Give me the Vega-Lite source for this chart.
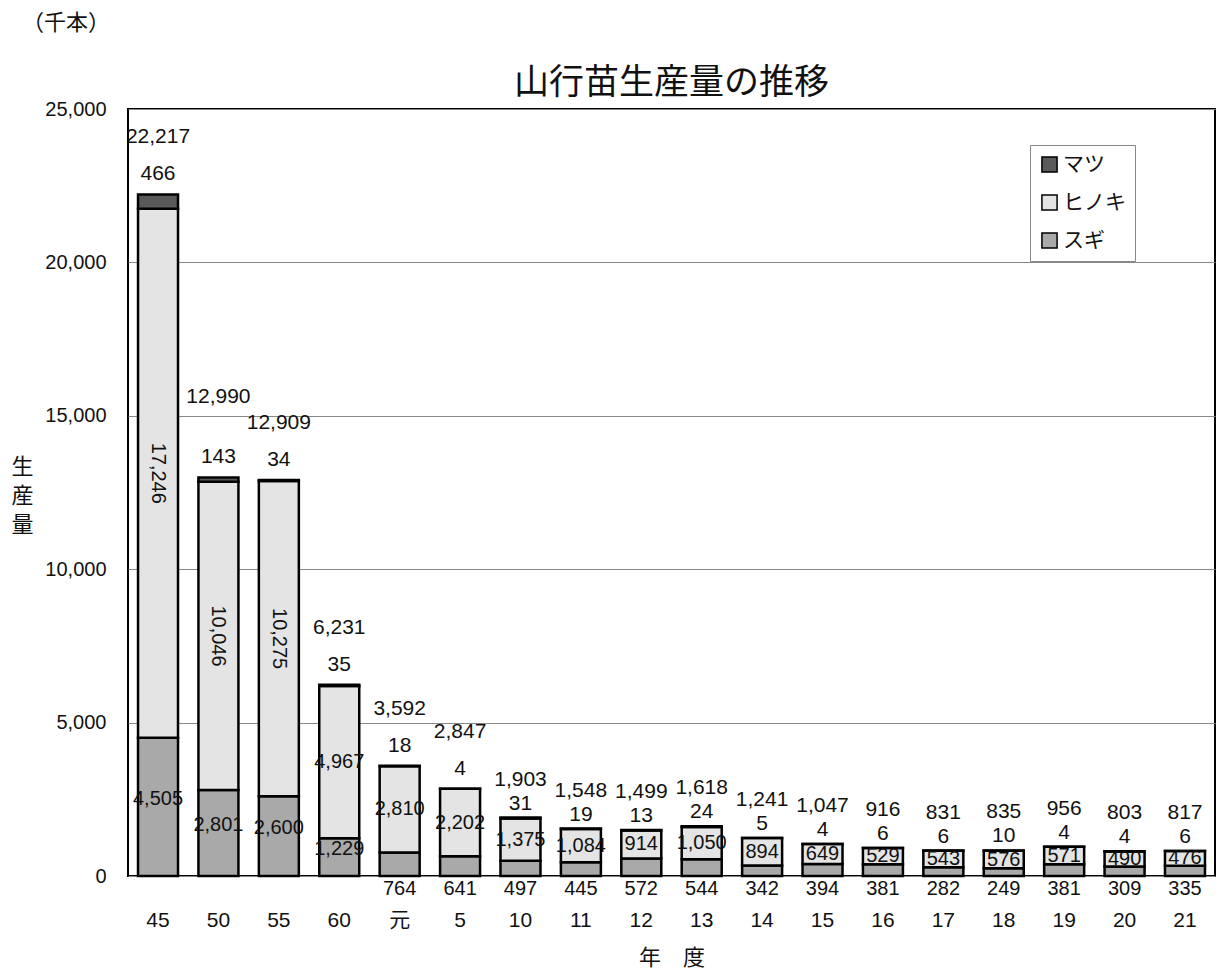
{
  "$schema": "https://vega.github.io/schema/vega-lite/v6.json",
  "width": 1087,
  "height": 767,
  "autosize": {"type": "none"},
  "padding": {"left": 128, "top": 109, "right": 2, "bottom": 94},
  "background": "white",
  "config": {
    "view": {"stroke": "black", "strokeWidth": 2},
    "font": "Liberation Sans, Noto Sans CJK JP",
    "text": {"font": "Liberation Sans, Noto Sans CJK JP", "color": "#111"},
    "axisY": {
      "labelFontSize": 20, "labelColor": "#111", "labelPadding": 22,
      "labelExpr": "format(datum.value, ',')",
      "ticks": false, "domain": false, "grid": true, "gridColor": "#888", "gridWidth": 1,
      "titleAngle": 0, "titleX": -106, "titleY": 357,
      "titleBaseline": "middle", "titleAlign": "center", "titleFont": "Noto Sans CJK JP",
      "titleFontSize": 22, "titleFontWeight": "normal", "titleColor": "#111", "titleLineHeight": 29
    }
  },
  "title": {
    "text": "（千本）",
    "font": "Noto Sans CJK JP",
    "fontSize": 22,
    "fontWeight": "normal",
    "color": "#111",
    "anchor": "start",
    "frame": "group",
    "dx": -106,
    "offset": 30
  },
  "data": {
    "values": [
      {"year": "45", "species": "スギ", "value": 4505},
      {"year": "45", "species": "ヒノキ", "value": 17246},
      {"year": "45", "species": "マツ", "value": 466},
      {"year": "50", "species": "スギ", "value": 2801},
      {"year": "50", "species": "ヒノキ", "value": 10046},
      {"year": "50", "species": "マツ", "value": 143},
      {"year": "55", "species": "スギ", "value": 2600},
      {"year": "55", "species": "ヒノキ", "value": 10275},
      {"year": "55", "species": "マツ", "value": 34},
      {"year": "60", "species": "スギ", "value": 1229},
      {"year": "60", "species": "ヒノキ", "value": 4967},
      {"year": "60", "species": "マツ", "value": 35},
      {"year": "元", "species": "スギ", "value": 764},
      {"year": "元", "species": "ヒノキ", "value": 2810},
      {"year": "元", "species": "マツ", "value": 18},
      {"year": "5", "species": "スギ", "value": 641},
      {"year": "5", "species": "ヒノキ", "value": 2202},
      {"year": "5", "species": "マツ", "value": 4},
      {"year": "10", "species": "スギ", "value": 497},
      {"year": "10", "species": "ヒノキ", "value": 1375},
      {"year": "10", "species": "マツ", "value": 31},
      {"year": "11", "species": "スギ", "value": 445},
      {"year": "11", "species": "ヒノキ", "value": 1084},
      {"year": "11", "species": "マツ", "value": 19},
      {"year": "12", "species": "スギ", "value": 572},
      {"year": "12", "species": "ヒノキ", "value": 914},
      {"year": "12", "species": "マツ", "value": 13},
      {"year": "13", "species": "スギ", "value": 544},
      {"year": "13", "species": "ヒノキ", "value": 1050},
      {"year": "13", "species": "マツ", "value": 24},
      {"year": "14", "species": "スギ", "value": 342},
      {"year": "14", "species": "ヒノキ", "value": 894},
      {"year": "14", "species": "マツ", "value": 5},
      {"year": "15", "species": "スギ", "value": 394},
      {"year": "15", "species": "ヒノキ", "value": 649},
      {"year": "15", "species": "マツ", "value": 4},
      {"year": "16", "species": "スギ", "value": 381},
      {"year": "16", "species": "ヒノキ", "value": 529},
      {"year": "16", "species": "マツ", "value": 6},
      {"year": "17", "species": "スギ", "value": 282},
      {"year": "17", "species": "ヒノキ", "value": 543},
      {"year": "17", "species": "マツ", "value": 6},
      {"year": "18", "species": "スギ", "value": 249},
      {"year": "18", "species": "ヒノキ", "value": 576},
      {"year": "18", "species": "マツ", "value": 10},
      {"year": "19", "species": "スギ", "value": 381},
      {"year": "19", "species": "ヒノキ", "value": 571},
      {"year": "19", "species": "マツ", "value": 4},
      {"year": "20", "species": "スギ", "value": 309},
      {"year": "20", "species": "ヒノキ", "value": 490},
      {"year": "20", "species": "マツ", "value": 4},
      {"year": "21", "species": "スギ", "value": 335},
      {"year": "21", "species": "ヒノキ", "value": 476},
      {"year": "21", "species": "マツ", "value": 6}
    ]
  },
  "transform": [
    {"calculate": "indexof(['スギ','ヒノキ','マツ'], datum.species)", "as": "ord"},
    {"stack": "value", "groupby": ["year"], "sort": [{"field": "ord", "order": "ascending"}], "as": ["v0", "v1"]},
    {"calculate": "(datum.v0 + datum.v1) / 2", "as": "mid"},
    {"joinaggregate": [{"op": "sum", "field": "value", "as": "total"}], "groupby": ["year"]}
  ],
  "layer": [
    {
      "mark": {"type": "bar", "stroke": "black", "strokeWidth": 2.5},
      "encoding": {
        "x": {
          "field": "year", "type": "ordinal",
          "sort": ["45","50","55","60","元","5","10","11","12","13","14","15","16","17","18","19","20","21"],
          "scale": {"paddingInner": 0.338, "paddingOuter": 0.166},
          "axis": {
            "orient": "bottom", "labelAngle": 0, "labelFontSize": 21, "labelColor": "#111",
            "labelPadding": 33, "ticks": false, "domain": false,
            "title": "年　度", "titleFont": "Noto Sans CJK JP", "titleFontSize": 22,
            "titleFontWeight": "normal", "titleColor": "#111", "titleY": 81, "titleBaseline": "middle"
          }
        },
        "y": {
          "field": "v0", "type": "quantitative",
          "scale": {"domain": [0, 25000], "nice": false},
          "title": ["生", "産", "量"],
          "axis": {"values": [0, 5000, 10000, 15000, 20000, 25000]}
        },
        "y2": {"field": "v1"},
        "color": {
          "field": "species", "type": "nominal",
          "scale": {"domain": ["マツ", "ヒノキ", "スギ"], "range": ["#5a5a5a", "#e4e4e4", "#a9a9a9"]},
          "legend": {
            "title": null, "orient": "none", "legendX": 902, "legendY": 36,
            "fillColor": "white", "strokeColor": "#888", "padding": 9,
            "symbolType": "square", "symbolSize": 230, "symbolStrokeColor": "black", "symbolStrokeWidth": 1.5,
            "labelFont": "Noto Sans CJK JP", "labelFontSize": 21, "labelColor": "#111",
            "rowPadding": 15, "labelOffset": 3
          }
        }
      }
    },
    {
      "transform": [{"filter": "datum.species === 'ヒノキ' && datum.value > 10000"}],
      "mark": {"type": "text", "angle": 90, "fontSize": 20, "align": "center", "baseline": "middle"},
      "encoding": {
        "x": {"field": "year", "type": "ordinal", "sort": ["45","50","55","60","元","5","10","11","12","13","14","15","16","17","18","19","20","21"], "axis": null},
        "y": {"field": "mid", "type": "quantitative", "title": ["生", "産", "量"], "axis": {"values": [0, 5000, 10000, 15000, 20000, 25000]}},
        "text": {"field": "value", "type": "quantitative", "format": ","}
      }
    },
    {
      "transform": [{"filter": "datum.species === 'ヒノキ' && datum.value <= 10000"}],
      "mark": {"type": "text", "fontSize": 20, "align": "center", "baseline": "middle"},
      "encoding": {
        "x": {"field": "year", "type": "ordinal", "sort": ["45","50","55","60","元","5","10","11","12","13","14","15","16","17","18","19","20","21"], "axis": null},
        "y": {"field": "mid", "type": "quantitative", "title": ["生", "産", "量"], "axis": {"values": [0, 5000, 10000, 15000, 20000, 25000]}},
        "text": {"field": "value", "type": "quantitative", "format": ","}
      }
    },
    {
      "transform": [{"filter": "datum.species === 'スギ' && datum.value >= 1000"}],
      "mark": {"type": "text", "fontSize": 20, "align": "center", "baseline": "middle", "dy": -8},
      "encoding": {
        "x": {"field": "year", "type": "ordinal", "sort": ["45","50","55","60","元","5","10","11","12","13","14","15","16","17","18","19","20","21"], "axis": null},
        "y": {"field": "mid", "type": "quantitative", "title": ["生", "産", "量"], "axis": {"values": [0, 5000, 10000, 15000, 20000, 25000]}},
        "text": {"field": "value", "type": "quantitative", "format": ","}
      }
    },
    {
      "transform": [{"filter": "datum.species === 'スギ' && datum.value < 1000"}],
      "mark": {"type": "text", "fontSize": 20, "align": "center", "baseline": "middle", "dy": 13},
      "encoding": {
        "x": {"field": "year", "type": "ordinal", "sort": ["45","50","55","60","元","5","10","11","12","13","14","15","16","17","18","19","20","21"], "axis": null},
        "y": {"field": "v0", "type": "quantitative", "title": ["生", "産", "量"], "axis": {"values": [0, 5000, 10000, 15000, 20000, 25000]}},
        "text": {"field": "value", "type": "quantitative", "format": ","}
      }
    },
    {
      "transform": [{"filter": "datum.species === 'マツ' && datum.total >= 2800"}],
      "mark": {"type": "text", "fontSize": 21, "align": "center", "baseline": "middle", "dy": -20},
      "encoding": {
        "x": {
          "field": "year", "type": "ordinal",
          "sort": ["45","50","55","60","元","5","10","11","12","13","14","15","16","17","18","19","20","21"],
          "axis": {
            "orient": "top", "labels": false, "ticks": false, "domain": false, "grid": false,
            "title": "山行苗生産量の推移", "titleX": 543, "titleY": -27, "titleBaseline": "middle", "titleAlign": "center",
            "titleFont": "Noto Sans CJK JP", "titleFontSize": 35, "titleFontWeight": "normal", "titleColor": "#111"
          }
        },
        "y": {"field": "v1", "type": "quantitative", "title": ["生", "産", "量"], "axis": {"values": [0, 5000, 10000, 15000, 20000, 25000]}},
        "text": {"field": "value", "type": "quantitative", "format": ","}
      }
    },
    {
      "transform": [{"filter": "datum.species === 'マツ' && datum.total < 2800"}],
      "mark": {"type": "text", "fontSize": 21, "align": "center", "baseline": "middle", "dy": -14},
      "encoding": {
        "x": {"field": "year", "type": "ordinal", "sort": ["45","50","55","60","元","5","10","11","12","13","14","15","16","17","18","19","20","21"], "axis": null},
        "y": {"field": "v1", "type": "quantitative", "title": ["生", "産", "量"], "axis": {"values": [0, 5000, 10000, 15000, 20000, 25000]}},
        "text": {"field": "value", "type": "quantitative", "format": ","}
      }
    },
    {
      "transform": [{"filter": "datum.species === 'マツ' && datum.total >= 2800 && datum.year !== '50'"}],
      "mark": {"type": "text", "fontSize": 21, "align": "center", "baseline": "middle", "dy": -57},
      "encoding": {
        "x": {"field": "year", "type": "ordinal", "sort": ["45","50","55","60","元","5","10","11","12","13","14","15","16","17","18","19","20","21"], "axis": null},
        "y": {"field": "v1", "type": "quantitative", "title": ["生", "産", "量"], "axis": {"values": [0, 5000, 10000, 15000, 20000, 25000]}},
        "text": {"field": "total", "type": "quantitative", "format": ","}
      }
    },
    {
      "transform": [{"filter": "datum.species === 'マツ' && datum.year === '50'"}],
      "mark": {"type": "text", "fontSize": 21, "align": "center", "baseline": "middle", "dy": -80},
      "encoding": {
        "x": {"field": "year", "type": "ordinal", "sort": ["45","50","55","60","元","5","10","11","12","13","14","15","16","17","18","19","20","21"], "axis": null},
        "y": {"field": "v1", "type": "quantitative", "title": ["生", "産", "量"], "axis": {"values": [0, 5000, 10000, 15000, 20000, 25000]}},
        "text": {"field": "total", "type": "quantitative", "format": ","}
      }
    },
    {
      "transform": [{"filter": "datum.species === 'マツ' && datum.total < 2800"}],
      "mark": {"type": "text", "fontSize": 21, "align": "center", "baseline": "middle", "dy": -38},
      "encoding": {
        "x": {"field": "year", "type": "ordinal", "sort": ["45","50","55","60","元","5","10","11","12","13","14","15","16","17","18","19","20","21"], "axis": null},
        "y": {"field": "v1", "type": "quantitative", "title": ["生", "産", "量"], "axis": {"values": [0, 5000, 10000, 15000, 20000, 25000]}},
        "text": {"field": "total", "type": "quantitative", "format": ","}
      }
    }
  ],
  "resolve": {"axis": {"x": "independent"}}
}
